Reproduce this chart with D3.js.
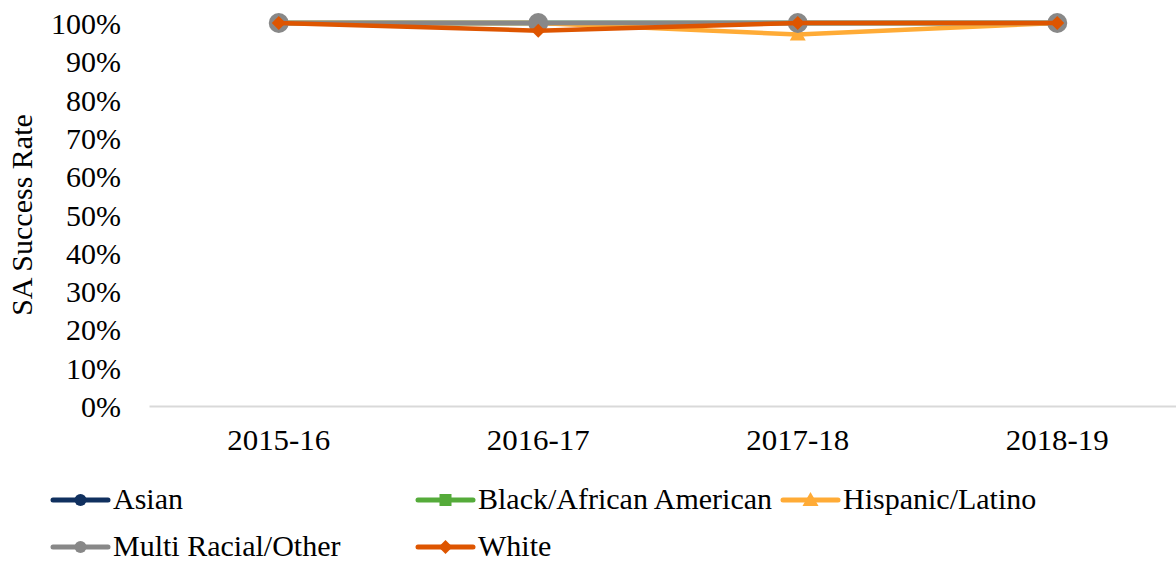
<!DOCTYPE html>
<html>
<head>
<meta charset="utf-8">
<script src="https://cdn.jsdelivr.net/npm/d3@7"></script>
<style>
  html, body { margin: 0; padding: 0; background: #ffffff; }
  svg { display: block; font-family: "Liberation Serif", serif; }
</style>
</head>
<body>
<svg id="chart" width="1176" height="564"></svg>
<script>
// School years on the category axis
const years = ["2015-16", "2016-17", "2017-18", "2018-19"];

// SA success rate per student group (fraction of 1)
const asian = [1.00, 1.00, 1.00, 1.00];
const blackAfricanAmerican = [1.00, 1.00, 1.00, 1.00];
const hispanicLatino = [1.00, 1.00, 0.97, 1.00];
const multiRacialOther = [1.00, 1.00, 1.00, 1.00];
const white = [1.00, 0.98, 1.00, 1.00];

// Y axis tick values
const yTicks = [0, 0.1, 0.2, 0.3, 0.4, 0.5, 0.6, 0.7, 0.8, 0.9, 1.0];

const series = [
  { name: "Asian", values: asian, color: "#10305f", symbol: "circle" },
  { name: "Black/African American", values: blackAfricanAmerican, color: "#55ab3a", symbol: "square" },
  { name: "Hispanic/Latino", values: hispanicLatino, color: "#ffab36", symbol: "triangle" },
  { name: "Multi Racial/Other", values: multiRacialOther, color: "#888888", symbol: "bigcircle" },
  { name: "White", values: white, color: "#de5500", symbol: "diamond" }
];

const FONT = "Liberation Serif, serif";
const FS = 30;

// Legend layout: where each entry's key line starts
const legendLayout = [
  { x: 53, y: 500 }, { x: 418, y: 500 }, { x: 783, y: 500 },
  { x: 53, y: 547 }, { x: 418, y: 547 }
];

const svg = d3.select("#chart");

const x = d3.scaleBand().domain(years).range([149, 1187]).padding(0);
const cx = d => x(d) + x.bandwidth() / 2;
const y = d3.scaleLinear().domain([0, 1]).range([406, 23]);

// Category axis
const xAxis = svg.append("g")
  .attr("transform", "translate(0,406)")
  .call(d3.axisBottom(x).tickSize(0).tickPadding(38));
xAxis.select(".domain").attr("stroke", "#d9d9d9").attr("stroke-width", 2);
xAxis.selectAll("text")
  .attr("font-family", FONT)
  .attr("font-size", FS)
  .attr("fill", "#000")
  .attr("dy", "0.2em")
  .attr("textLength", 103)
  .attr("lengthAdjust", "spacingAndGlyphs");

// Value axis
const yAxis = svg.append("g")
  .attr("transform", "translate(121,0)")
  .call(d3.axisLeft(y).tickValues(yTicks).tickSize(0).tickPadding(0).tickFormat(d3.format(".0%")));
yAxis.select(".domain").remove();
yAxis.selectAll("text")
  .attr("font-family", FONT)
  .attr("font-size", FS)
  .attr("fill", "#000")
  .attr("dy", "0.35em");

// Axis title
svg.append("text")
  .attr("transform", "translate(32,215) rotate(-90)")
  .attr("text-anchor", "middle")
  .attr("font-family", FONT)
  .attr("font-size", FS)
  .attr("fill", "#000")
  .text("SA Success Rate");

// Marker shapes
function drawMarker(g, symbol, color, px, py, scale) {
  const s = scale || 1;
  if (symbol === "circle") {
    g.append("circle").attr("cx", px).attr("cy", py).attr("r", 6 * s).attr("fill", color);
  } else if (symbol === "bigcircle") {
    g.append("circle").attr("cx", px).attr("cy", py).attr("r", 10 * s).attr("fill", color);
  } else if (symbol === "square") {
    const h = 6 * s;
    g.append("rect").attr("x", px - h).attr("y", py - h).attr("width", 2 * h).attr("height", 2 * h).attr("fill", color);
  } else if (symbol === "triangle") {
    const h = 8 * s;
    g.append("path")
      .attr("d", `M${px},${py - h}L${px + h},${py + h * 0.75}L${px - h},${py + h * 0.75}Z`)
      .attr("fill", color);
  } else if (symbol === "diamond") {
    const h = 7 * s;
    g.append("path")
      .attr("d", `M${px},${py - h}L${px + h},${py}L${px},${py + h}L${px - h},${py}Z`)
      .attr("fill", color);
  }
}

// Lines and markers
const line = d3.line().x((d, i) => cx(years[i])).y(d => y(d));
const plot = svg.append("g");
series.forEach(s => {
  const g = plot.append("g");
  g.append("path")
    .datum(s.values)
    .attr("d", line)
    .attr("fill", "none")
    .attr("stroke", s.color)
    .attr("stroke-width", 4.5)
    .attr("stroke-linejoin", "round")
    .attr("stroke-linecap", "round");
  s.values.forEach((v, i) => drawMarker(g, s.symbol, s.color, cx(years[i]), y(v)));
});

// Legend
const legend = svg.append("g");
series.forEach((s, i) => {
  const p = legendLayout[i];
  const g = legend.append("g");
  const w = 55;
  g.append("line")
    .attr("x1", p.x).attr("x2", p.x + w)
    .attr("y1", p.y).attr("y2", p.y)
    .attr("stroke", s.color).attr("stroke-width", 5)
    .attr("stroke-linecap", "round");
  const mscale = s.symbol === "bigcircle" ? 0.6 : 1;
  drawMarker(g, s.symbol, s.color, p.x + w / 2, p.y, mscale);
  g.append("text")
    .attr("x", p.x + w + 5)
    .attr("y", p.y)
    .attr("dy", "0.3em")
    .attr("font-family", FONT)
    .attr("font-size", FS)
    .attr("fill", "#000")
    .text(s.name);
});
</script>
</body>
</html>
